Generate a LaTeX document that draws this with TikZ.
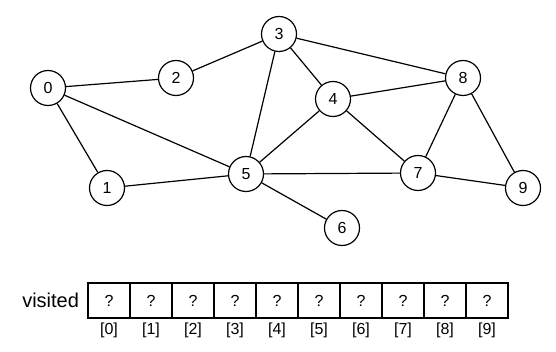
\documentclass[tikz,border=0pt]{standalone}
\usepackage{fontspec}
\setmainfont{Liberation Sans}
\usetikzlibrary{positioning}
\begin{document}
\begin{tikzpicture}[x=1pt, y=-1pt, line width=1.2pt,
  every node/.style={font=\fontsize{16}{18}\selectfont},
  vertex/.style={circle, draw, fill=white, minimum size=35pt, inner sep=0pt},
  cell/.style={draw, minimum width=42pt, minimum height=35pt, inner sep=0pt}]
\useasboundingbox (0,0) rectangle (556,352);
% vertices
\foreach \n/\x/\y in {0/48/88, 1/107/188, 2/176/78, 3/279/34, 4/333/99, 5/246/174, 6/342/228, 7/418/173, 8/463/78, 9/523/188}
  \node[vertex] (v\n) at (\x,\y) {\n};
% edges
\foreach \a/\b in {0/2, 0/1, 0/5, 2/3, 3/4, 3/5, 3/8, 4/5, 4/8, 4/7, 1/5, 5/7, 5/6, 8/7, 8/9, 7/9}
  \draw (v\a) -- (v\b);
% visited array
\foreach \i in {0,...,9} {
  \node[cell] (c\i) at (109+42*\i, 300.5) {?};
  \node[below=0pt of c\i] (idx\i) {[\i]};
}
\node[font=\fontsize{20}{24}\selectfont, left=4.5pt of c0] (visited) {visited};
\end{tikzpicture}
\end{document}
